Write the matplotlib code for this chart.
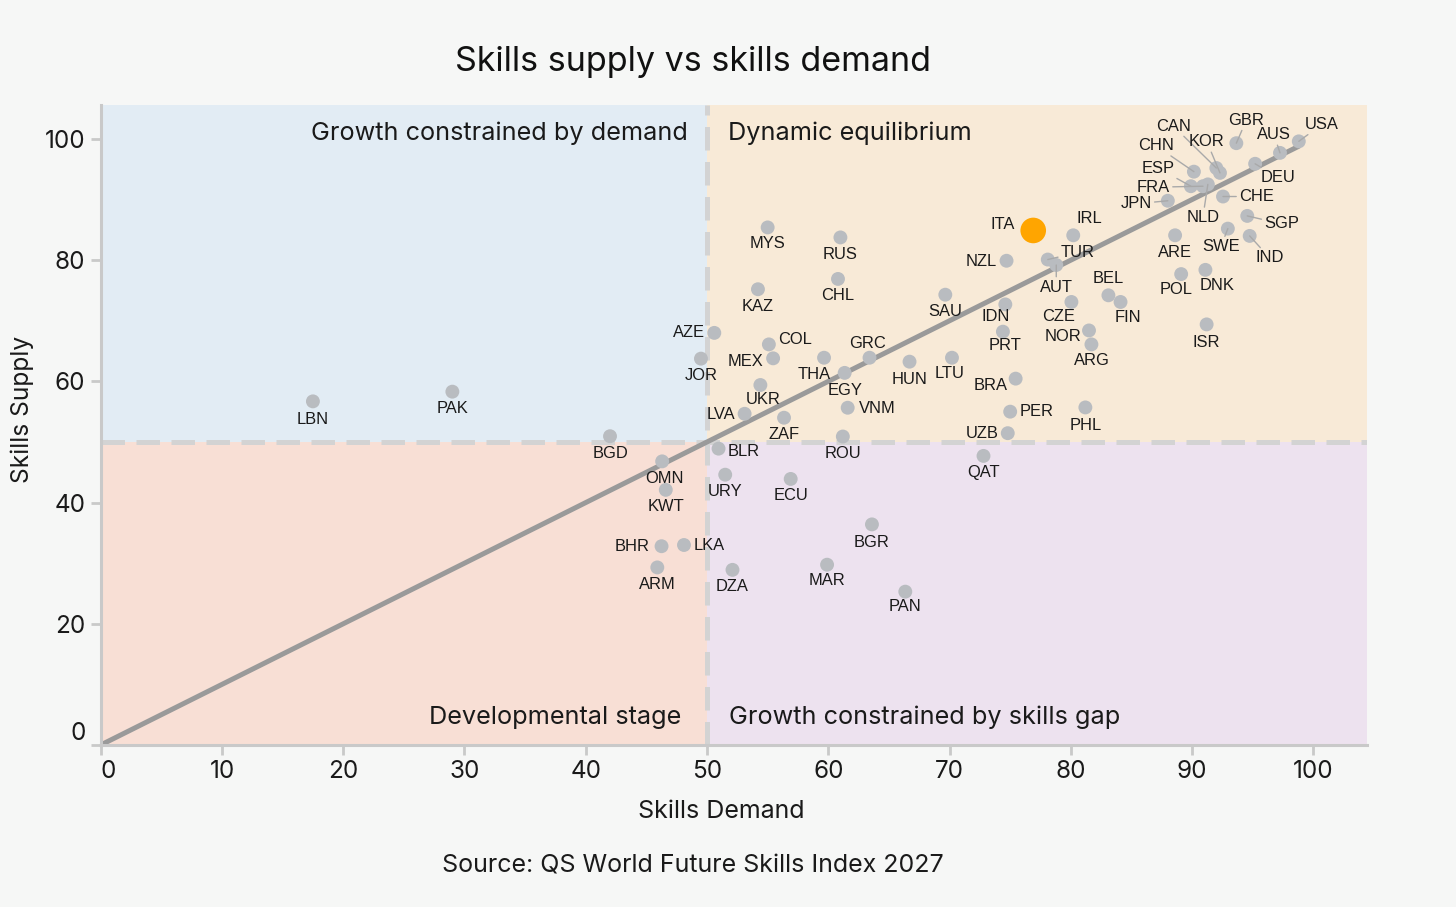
import matplotlib
matplotlib.use("Agg")
import matplotlib.pyplot as plt
from matplotlib.patches import Rectangle

# ---------------- data ----------------
countries = ["USA", "GBR", "AUS", "DEU", "CAN", "KOR", "CHN", "ESP", "FRA", "NLD",
             "CHE", "JPN", "SGP", "SWE", "ARE", "IND", "ITA", "IRL", "NZL", "TUR",
             "AUT", "BEL", "FIN", "CZE", "SAU", "IDN", "PRT", "NOR", "ARG", "POL",
             "DNK", "ISR", "MYS", "RUS", "CHL", "KAZ", "AZE", "COL", "MEX", "JOR",
             "THA", "GRC", "EGY", "HUN", "LTU", "UKR", "VNM", "LVA", "ZAF", "ROU",
             "BLR", "BRA", "PER", "UZB", "QAT", "PHL", "BGD", "OMN", "KWT", "URY",
             "ECU", "BGR", "BHR", "LKA", "ARM", "DZA", "MAR", "PAN", "LBN", "PAK"]
skills_demand = [98.8, 93.65, 97.25, 95.2, 92.0, 92.3, 90.15, 89.9, 90.9, 91.3,
                 92.55, 88.0, 94.55, 92.95, 88.6, 94.75, 76.9, 80.2, 74.7, 78.1,
                 78.8, 83.1, 84.1, 80.05, 69.65, 74.6, 74.4, 81.5, 81.7, 89.1,
                 91.1, 91.2, 55.0, 61.0, 60.8, 54.2, 50.6, 55.1, 55.45, 49.5,
                 59.65, 63.4, 61.35, 66.7, 70.2, 54.4, 61.6, 53.1, 56.35, 61.2,
                 50.95, 75.45, 75.0, 74.8, 72.8, 81.2, 42.0, 46.3, 46.6, 51.5,
                 56.9, 63.6, 46.25, 48.1, 45.9, 52.1, 59.9, 66.35, 17.5, 29.0]
skills_supply = [99.6, 99.3, 97.7, 95.9, 95.2, 94.4, 94.6, 92.2, 92.2, 92.5,
                 90.5, 89.8, 87.3, 85.2, 84.1, 84.0, 84.9, 84.1, 79.9, 80.1,
                 79.2, 74.2, 73.1, 73.1, 74.3, 72.7, 68.2, 68.4, 66.1, 77.7,
                 78.4, 69.4, 85.4, 83.75, 76.9, 75.2, 68.0, 66.1, 63.8, 63.75,
                 63.9, 63.9, 61.4, 63.25, 63.9, 59.4, 55.65, 54.65, 54.0, 50.9,
                 48.9, 60.45, 55.0, 51.45, 47.7, 55.7, 50.95, 46.8, 42.1, 44.6,
                 43.9, 36.4, 32.8, 33.0, 29.3, 28.9, 29.75, 25.3, 56.7, 58.3]
highlight = "ITA"
threshold = 50
x_ticks = [0, 10, 20, 30, 40, 50, 60, 70, 80, 90, 100]
y_ticks = [0, 20, 40, 60, 80, 100]
quadrant_names = ["Growth constrained by demand", "Dynamic equilibrium",
                  "Developmental stage", "Growth constrained by skills gap"]
title = "Skills supply vs skills demand"
source = "Source: QS World Future Skills Index 2027"

# ---------------- label placement (pixels: dx right, dy down) ----------------
# name: (dx, dy, ha, leader)
label_pos = {
    "USA": (23, -17, "center", True), "GBR": (10, -23, "center", True),
    "AUS": (-6, -18, "center", True), "DEU": (23, 14, "center", True),
    "CAN": (-43, -42, "center", True), "KOR": (-13, -31, "center", True),
    "CHN": (-38, -26, "center", True), "ESP": (-16, -18, "right", True),
    "FRA": (-33, 1, "right", True), "NLD": (-5, 33, "center", True),
    "CHE": (16, 0, "left", True), "JPN": (-16, 3, "right", True),
    "SGP": (17, 8, "left", True), "SWE": (-7, 18, "center", True),
    "IND": (20, 22, "center", True), "ARE": (0, 17, "center", False),
    "ITA": (-18, -6, "right", False), "IRL": (16, -17, "center", False),
    "NZL": (-10, 1, "right", False), "TUR": (13, -7, "left", True),
    "AUT": (0, 22, "center", True), "BEL": (0, -17, "center", False),
    "FIN": (7, 16, "center", False), "CZE": (-13, 15, "center", False),
    "SAU": (0, 17, "center", False), "IDN": (-10, 12, "center", False),
    "PRT": (2, 14, "center", False), "NOR": (-8, 6, "right", False),
    "ARG": (0, 16, "center", False), "POL": (-5, 15, "center", False),
    "DNK": (12, 16, "center", False), "ISR": (0, 18, "center", False),
    "MYS": (0, 16, "center", False), "RUS": (0, 17, "center", False),
    "CHL": (0, 17, "center", False), "KAZ": (0, 17, "center", False),
    "AZE": (-9, 0, "right", False), "COL": (9, -5, "left", False),
    "MEX": (-10, 3, "right", False), "JOR": (0, 17, "center", False),
    "THA": (-10, 17, "center", False), "GRC": (-2, -14, "center", False),
    "EGY": (0, 18, "center", False), "HUN": (0, 18, "center", False),
    "LTU": (-2, 16, "center", False), "UKR": (3, 14, "center", False),
    "VNM": (11, 1, "left", False), "LVA": (-9, 1, "right", False),
    "ZAF": (0, 17, "center", False), "ROU": (0, 17, "center", False),
    "BLR": (9, 3, "left", False), "BRA": (-8, 7, "right", False),
    "PER": (9, 0, "left", False), "UZB": (-9, 0, "right", False),
    "QAT": (0, 17, "center", False), "PHL": (0, 18, "center", False),
    "BGD": (0, 17, "center", False), "OMN": (2, 17, "center", False),
    "KWT": (0, 17, "center", False), "URY": (0, 17, "center", False),
    "ECU": (0, 17, "center", False), "BGR": (0, 18, "center", False),
    "BHR": (-12, 0, "right", False), "LKA": (10, 0, "left", False),
    "ARM": (0, 17, "center", False), "DZA": (0, 17, "center", False),
    "MAR": (0, 16, "center", False), "PAN": (0, 15, "center", False),
    "LBN": (0, 18, "center", False), "PAK": (0, 17, "center", False),
}

# ---------------- styling ----------------
BG = "#f6f7f6"
Q_COLORS = ["#e2ecf4", "#f8ead7", "#f8dfd5", "#ede2ef"]
DOT = "#b9bcc0"
HL = "#ffa500"
TXT = "#1a1a1a"
AXC = "#c9c9c9"
MAIN_FONT = ["Inter", "DejaVu Sans"]
LABEL_FONT = ["Liberation Sans", "DejaVu Sans"]

XMAX, YMAX = 104.4, 105.6

fig = plt.figure(figsize=(14.56, 9.07), dpi=100, facecolor=BG)
ax = fig.add_axes([100.7 / 1456, 1 - 745 / 907, (1366.7 - 100.7) / 1456, (745 - 105) / 907])
ax.set_facecolor(BG)
ax.set_xlim(0, XMAX)
ax.set_ylim(0, YMAX)

# quadrants
ax.add_patch(Rectangle((0, threshold), threshold, YMAX - threshold, color=Q_COLORS[0], lw=0, zorder=0))
ax.add_patch(Rectangle((threshold, threshold), XMAX - threshold, YMAX - threshold, color=Q_COLORS[1], lw=0, zorder=0))
ax.add_patch(Rectangle((0, 0), threshold, threshold, color=Q_COLORS[2], lw=0, zorder=0))
ax.add_patch(Rectangle((threshold, 0), XMAX - threshold, threshold, color=Q_COLORS[3], lw=0, zorder=0))

ax.axvline(threshold, color="#d3d3d3", lw=3.6, linestyle=(0, (4.7, 2.3)), zorder=1)
ax.axhline(threshold, color="#d3d3d3", lw=3.6, linestyle=(0, (4.7, 2.3)), zorder=1)

# diagonal
dmax = max(skills_demand)
ax.plot([0, dmax], [0, dmax], color="#9a9a9a", lw=3.6, solid_capstyle="round", zorder=2)

# points
for name, xv, yv in zip(countries, skills_demand, skills_supply):
    is_hl = name == highlight
    ax.scatter([xv], [yv], s=340 if is_hl else 100, color=HL if is_hl else DOT,
               edgecolors="none", zorder=5 if is_hl else 4)
    dx, dy, ha, leader = label_pos[name]
    kw = {}
    if leader:
        kw["arrowprops"] = dict(arrowstyle="-", color="#a9a9a9", lw=1.0,
                                shrinkA=0, shrinkB=0)
    ax.annotate(name, xy=(xv, yv), xytext=(dx, -dy), textcoords="offset pixels",
                ha=ha, va="center", fontsize=11.9, family=LABEL_FONT, color=TXT,
                zorder=6, annotation_clip=False, **kw)

# quadrant labels
qfs = 18.2
ax.text(48.4, 101.0, quadrant_names[0], ha="right", va="center", fontsize=qfs, family=MAIN_FONT, color=TXT, zorder=3)
ax.text(51.7, 101.0, quadrant_names[1], ha="left", va="center", fontsize=qfs, family=MAIN_FONT, color=TXT, zorder=3)
ax.text(47.9, 4.5, quadrant_names[2], ha="right", va="center", fontsize=qfs, family=MAIN_FONT, color=TXT, zorder=3)
ax.text(51.8, 4.5, quadrant_names[3], ha="left", va="center", fontsize=qfs, family=MAIN_FONT, color=TXT, zorder=3)

# axes
for s in ["top", "right"]:
    ax.spines[s].set_visible(False)
for s in ["left", "bottom"]:
    ax.spines[s].set_color(AXC)
    ax.spines[s].set_linewidth(2.2)
    ax.spines[s].set_zorder(3)
ax.set_xticks(x_ticks)
ax.set_yticks(y_ticks)
ax.set_xticklabels([str(t) for t in x_ticks])
ax.set_yticklabels([str(t) for t in y_ticks])
ax.tick_params(length=7, width=2, color=AXC, labelsize=17.5, labelcolor=TXT, pad=4)
for lab in ax.get_xticklabels() + ax.get_yticklabels():
    lab.set_family(MAIN_FONT)
ax.get_xticklabels()[0].set_ha("left")
ax.get_yticklabels()[0].set_va("bottom")

fig.text(721 / 1456, 1 - 811 / 907, "Skills Demand", ha="center", va="center",
         fontsize=18, family=MAIN_FONT, color=TXT)
fig.text(22 / 1456, 1 - 409 / 907, "Skills Supply", ha="center", va="center",
         rotation=90, fontsize=17.7, family=MAIN_FONT, color=TXT)
fig.text(693 / 1456, 1 - 62 / 907, title, ha="center", va="center",
         fontsize=24.5, family=MAIN_FONT, color="#111111")
fig.text(693 / 1456, 1 - 866 / 907, source, ha="center", va="center",
         fontsize=18, family=MAIN_FONT, color=TXT)

fig.savefig("out.png", dpi=100, facecolor=BG)
